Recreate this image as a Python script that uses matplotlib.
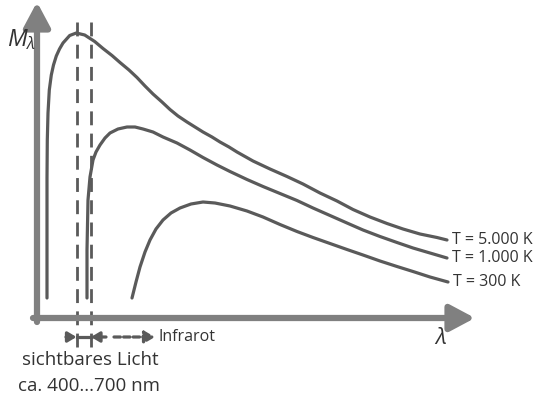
import numpy as np
import matplotlib
matplotlib.use("Agg")
import matplotlib.pyplot as plt

plt.rcParams['font.family'] = ['Open Sans', 'DejaVu Sans']
plt.rcParams['mathtext.fontset'] = 'custom'
plt.rcParams['mathtext.it'] = 'Open Sans:italic'
plt.rcParams['mathtext.rm'] = 'Open Sans'

# curve samples (lambda, M_lambda) in chart units
lam_5000 = [10, 10, 10, 10.3, 11, 12.3, 14.3, 16.5, 19.3, 22.5, 26, 32.7, 39.3, 47.7, 57.7,
            66, 75, 83, 92, 100, 108, 116, 125, 133, 141, 150, 158, 166, 175, 183, 192,
            200, 216, 233, 250, 266, 283, 300, 316, 333, 350, 366, 383, 400, 410]
m_5000 = [20, 80, 140, 178, 205, 228, 243, 253, 262, 269, 275, 282.5, 285, 283, 276.5,
          269.5, 262.5, 255.5, 248, 240.5, 232, 224, 216, 208.5, 202, 196, 191, 186, 181,
          176, 171, 166, 157, 149, 141.5, 134, 125, 117, 108.5, 101, 94.5, 89, 84, 80.5, 78]

lam_1000 = [50, 50, 51, 53, 56, 59, 63, 68, 73, 81, 90, 98, 106, 116, 126, 140, 153, 166,
            180, 193, 210, 226, 243, 260, 276, 293, 310, 326, 343, 360, 376, 393, 410]
m_1000 = [20, 68, 118, 141, 158, 166, 173, 180, 185, 189, 191, 191, 189, 186, 181, 175,
          168, 160.5, 153, 146.5, 138.5, 131.5, 124.5, 117.5, 110, 102.5, 95, 88, 81.5,
          75.5, 70, 65, 60]

lam_300 = [95, 99, 103, 108, 113, 119, 126, 134, 143, 154, 166, 178, 193, 210, 226, 243,
           260, 276, 293, 310, 326, 343, 360, 376, 393, 411]
m_300 = [20, 36, 51, 66, 78, 89, 98, 105, 110, 114, 116, 115, 112, 107, 101, 93.5, 86.5,
         80.5, 74.5, 68.5, 63, 57, 51.5, 46.5, 41, 36]

labels = ["T = 5.000 K", "T = 1.000 K", "T = 300 K"]
vis_band = [39.5, 54]  # visible light limits on the lambda axis

curve_col = "#5a5a5a"
axis_col = "#808080"
text_col = "#333333"

fig = plt.figure(figsize=(5.4, 3.96), dpi=100)
ax = fig.add_axes([0, 0, 1, 1])
ax.set_xlim(-37, 503)
ax.set_ylim(-78, 318)
ax.axis("off")

# axes with arrows
ax.annotate("", xy=(0, 316), xytext=(0, -4),
            arrowprops=dict(arrowstyle="-|>,head_length=1.5,head_width=0.8",
                            lw=4.5, color=axis_col, shrinkA=0, shrinkB=0))
ax.annotate("", xy=(438, 0), xytext=(-4, 0),
            arrowprops=dict(arrowstyle="-|>,head_length=1.5,head_width=0.8",
                            lw=4.5, color=axis_col, shrinkA=0, shrinkB=0))

# curves and their labels
for lam, m, lab in zip([lam_5000, lam_1000, lam_300], [m_5000, m_1000, m_300], labels):
    ax.plot(lam, m, color=curve_col, lw=2.3, solid_capstyle="round", solid_joinstyle="round")
    ax.text(lam[-1] + 5, m[-1], lab, fontsize=11.5, color=text_col, va="center", ha="left")

# visible band
for xv in vis_band:
    ax.plot([xv, xv], [296, -32], color=curve_col, lw=2.0, ls=(0, (5, 3)))

ax.annotate("", xy=(vis_band[0], -19), xytext=(29, -19),
            arrowprops=dict(arrowstyle="-|>,head_length=0.5,head_width=0.3",
                            lw=2.3, color=curve_col, shrinkA=0, shrinkB=0))
ax.annotate("", xy=(vis_band[1], -19), xytext=(69, -19),
            arrowprops=dict(arrowstyle="-|>,head_length=0.5,head_width=0.3",
                            lw=2.3, color=curve_col, shrinkA=0, shrinkB=0))
ax.plot([vis_band[0], vis_band[1]], [-19, -19], color=curve_col, lw=2.3)
ax.annotate("", xy=(118, -19), xytext=(77, -19),
            arrowprops=dict(arrowstyle="-|>,head_length=0.6,head_width=0.35",
                            lw=2.3, color=curve_col, ls=(0, (2, 1)), shrinkA=0, shrinkB=0))
ax.text(121, -19, "Infrarot", fontsize=11.5, color=text_col, va="center", ha="left")

ax.text(53, -42, "sichtbares Licht", fontsize=13.5, color=text_col, va="center", ha="center")
ax.text(52, -68, "ca. 400...700 nm", fontsize=13.5, color=text_col, va="center", ha="center")

ax.text(-30, 278, r"$M_\lambda$", fontsize=17, color=text_col, va="center", ha="left")
ax.text(404, -21, r"$\lambda$", fontsize=16, color=text_col, va="center", ha="center")

fig.savefig("out.png", dpi=100, facecolor="white")
